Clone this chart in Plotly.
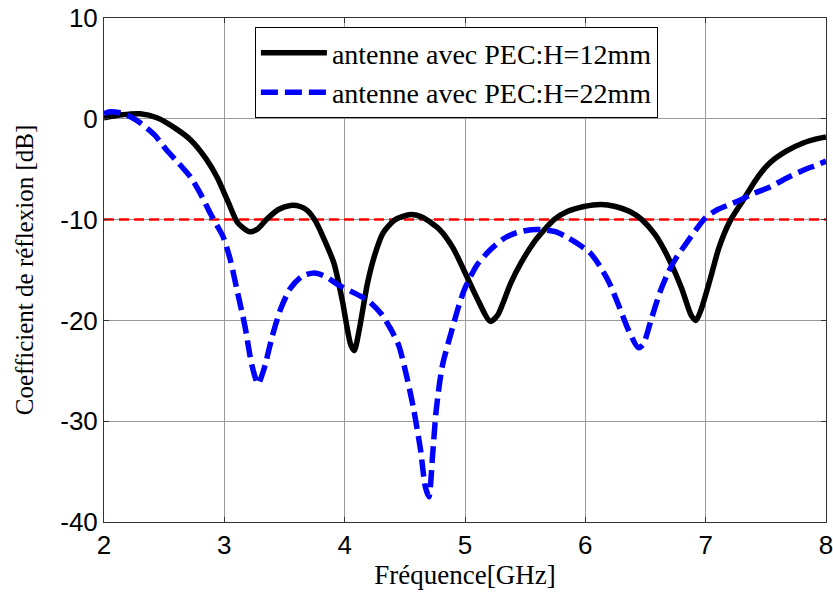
import plotly.graph_objects as go

freq_h12 = [2.0, 2.15, 2.3, 2.44, 2.6, 2.72, 2.85, 2.94, 3.03, 3.11, 3.21, 3.28, 3.35, 3.45, 3.55, 3.63,
            3.69, 3.76, 3.82, 3.91, 3.98, 4.05, 4.08, 4.12, 4.19, 4.25, 4.32, 4.42, 4.55, 4.65, 4.79,
            4.9, 4.99, 5.1, 5.21, 5.27, 5.38, 5.47, 5.57, 5.66, 5.74, 5.85, 5.99, 6.13, 6.25, 6.37,
            6.47, 6.58, 6.69, 6.8, 6.88, 6.92, 6.96, 7.04, 7.11, 7.2, 7.31, 7.42, 7.53, 7.67, 7.81,
            7.92, 8.0]
s11_h12 = [0.1, 0.4, 0.5, 0.1, -1.0, -2.1, -4.0, -5.8, -8.2, -10.3, -11.2, -10.9, -10.0, -9.0, -8.6, -8.7,
           -9.1, -10.2, -11.7, -14.3, -18.0, -22.4, -23.0, -21.0, -16.3, -13.5, -11.3, -10.0, -9.5, -9.8, -11.0,
           -12.8, -15.0, -17.8, -20.1, -19.5, -16.3, -14.2, -12.3, -11.0, -10.0, -9.2, -8.7, -8.5, -8.7, -9.2,
           -10.0, -11.5, -13.8, -16.8, -19.5, -20.0, -19.0, -15.8, -12.8, -10.2, -8.1, -6.0, -4.4, -3.2, -2.4,
           -2.0, -1.8]

freq_h22 = [2.0, 2.05, 2.13, 2.22, 2.3, 2.42, 2.52, 2.62, 2.72, 2.8, 2.88, 2.94, 2.99, 3.05, 3.1, 3.17,
            3.23, 3.28, 3.33, 3.4, 3.47, 3.55, 3.65, 3.75, 3.85, 3.95, 4.05, 4.19, 4.3, 4.38, 4.45, 4.52,
            4.57, 4.63, 4.67, 4.70, 4.73, 4.76, 4.81, 4.89, 4.95, 5.0, 5.1, 5.21, 5.32, 5.43, 5.55, 5.65,
            5.75, 5.84, 5.95, 6.04, 6.12, 6.2, 6.28, 6.36, 6.44, 6.48, 6.55, 6.62, 6.69, 6.76, 6.83, 6.92,
            7.0, 7.1, 7.2, 7.28, 7.4, 7.53, 7.67, 7.81, 7.92, 8.0]
s11_h22 = [0.5, 0.7, 0.6, 0.2, -0.4, -1.6, -3.1, -4.4, -5.8, -7.4, -9.3, -10.6, -11.7, -14.0, -16.7, -20.5,
           -24.5, -26.3, -24.8, -21.5, -18.8, -16.8, -15.6, -15.3, -15.7, -16.5, -17.1, -18.0, -19.3, -20.8, -22.5, -25.8,
           -28.6, -32.8, -36.5, -37.5, -33.5, -29.0, -24.6, -21.0, -18.5, -16.8, -14.5, -13.0, -11.9, -11.3, -11.0, -11.0,
           -11.2, -11.7, -12.5, -13.3, -14.6, -16.3, -18.6, -21.0, -22.7, -22.4, -19.8, -17.2, -15.2, -13.7, -12.5, -11.0,
           -9.8, -9.0, -8.5, -8.1, -7.4, -6.8, -5.9, -5.1, -4.6, -4.2]

ref_x = [2, 8]
ref_y = [-10, -10]

x_ticks = [2, 3, 4, 5, 6, 7, 8]
y_ticks = [-40, -30, -20, -10, 0, 10]

SERIF = "Liberation Serif, Times New Roman, serif"
SANS = "Liberation Sans, Arial, sans-serif"

fig = go.Figure()
fig.add_trace(go.Scatter(x=ref_x, y=ref_y, mode="lines", showlegend=False,
                         line=dict(color="#ff0000", width=2.5, dash="10px,5px")))
fig.add_trace(go.Scatter(x=freq_h12, y=s11_h12, mode="lines", name="antenne avec PEC:H=12mm",
                         line=dict(color="black", width=5.5, shape="spline", smoothing=0.7)))
fig.add_trace(go.Scatter(x=freq_h22, y=s11_h22, mode="lines", name="antenne avec PEC:H=22mm",
                         line=dict(color="#0000ff", width=5.5, dash="17px,7px", shape="spline", smoothing=0.7)))

axis_common = dict(showline=True, linecolor="#333", linewidth=1, mirror="ticks", ticks="inside",
                   ticklen=5, tickcolor="#333", showgrid=True, gridcolor="#9a9a9a", gridwidth=1,
                   zeroline=False, automargin=False, ticklabeloverflow="allow",
                   tickfont=dict(family=SANS, size=26, color="black"))

fig.update_xaxes(range=[2, 8], tickvals=x_ticks, ticktext=[str(v) for v in x_ticks],
                 title=dict(text="Fréquence[GHz]", font=dict(family=SERIF, size=27, color="black"), standoff=4),
                 **axis_common)
fig.update_yaxes(range=[-40, 10], tickvals=y_ticks, ticktext=[str(v) for v in y_ticks],
                 title=dict(text="Coefficient de réflexion [dB]", font=dict(family=SERIF, size=25, color="black"), standoff=19),
                 **axis_common)

fig.update_layout(
    width=833, height=592,
    margin=dict(l=104, r=7, t=18, b=70),
    paper_bgcolor="white", plot_bgcolor="white",
    legend=dict(x=0.209, y=0.982, xanchor="left", yanchor="top",
                bgcolor="white", bordercolor="black", borderwidth=1,
                font=dict(family=SERIF, size=28, color="black"),
                itemwidth=66, tracegroupgap=0),
)

fig.write_html("out.html", config={"displayModeBar": False},
               post_script="document.body.style.margin='0';document.body.style.padding='0';")
